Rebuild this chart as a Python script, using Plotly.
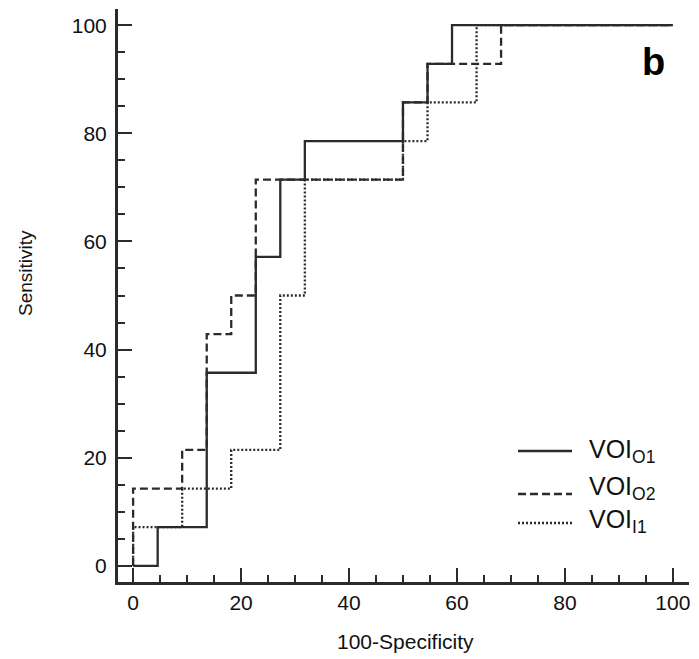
import plotly.graph_objects as go

# ROC operating points (100-Specificity, Sensitivity), drawn as steps
o1_fpr = [0, 4.55, 13.64, 22.73, 27.27, 31.82, 50, 54.55, 59.09, 100]
o1_tpr = [0, 7.14, 35.71, 57.14, 71.43, 78.57, 85.71, 92.86, 100, 100]

o2_fpr = [0, 0, 9.09, 13.64, 18.18, 22.73, 50, 50, 54.55, 68.18, 100]
o2_tpr = [0, 14.29, 21.43, 42.86, 50, 71.43, 78.57, 85.71, 92.86, 100, 100]

i1_fpr = [0, 0, 9.09, 18.18, 27.27, 31.82, 50, 54.55, 63.64, 100]
i1_tpr = [0, 7.14, 14.29, 21.43, 50, 71.43, 78.57, 85.71, 100, 100]

names = ["VOI<sub>O1</sub>", "VOI<sub>O2</sub>", "VOI<sub>I1</sub>"]
dashes = ["solid", "8px,4px", "2px,2px"]
curves = [(o1_fpr, o1_tpr), (o2_fpr, o2_tpr), (i1_fpr, i1_tpr)]

ink = "#2b2b2b"

# the page's body margin (8px) offsets the figure, so size and place in page px minus 8
OFF = 8
W, H = 699 - OFF, 659 - OFF
L, R, T, B = 118 - OFF, 10, 9 - OFF, 77
pw, ph = W - L - R, H - T - B


def px(x):
    return (x - OFF - L) / pw


def py(y):
    return (H - B - (y - OFF)) / ph


fig = go.Figure()
for name, (xs, ys), dash in zip(names, curves, dashes):
    fig.add_trace(go.Scatter(
        x=xs, y=ys, mode="lines", name=name, showlegend=False,
        line=dict(color=ink, width=2.3, dash=dash, shape="hv"),
    ))

axis_common = dict(
    showgrid=False, zeroline=False, showline=True, linecolor=ink, linewidth=3,
    ticks="inside", ticklen=14, tickwidth=2, tickcolor=ink, dtick=20,
    minor=dict(dtick=5, ticks="inside", ticklen=7, tickwidth=1.5, tickcolor=ink),
    tickfont=dict(size=21, color="#111111"), automargin=False,
)

fig.update_layout(
    width=W, height=H,
    margin=dict(l=L, r=R, t=T, b=B),
    plot_bgcolor="white", paper_bgcolor="white",
    font=dict(family="Liberation Sans, Arial, sans-serif", color="#111111"),
    xaxis=dict(range=[-2.8, 103], **axis_common),
    yaxis=dict(range=[-3, 103], ticklabelstandoff=4, **axis_common),
    showlegend=False,
)

# axis titles
fig.add_annotation(x=px(405), y=py(641), xref="paper", yref="paper", text="100-Specificity",
                   showarrow=False, xanchor="center", yanchor="middle", font=dict(size=21))
fig.add_annotation(x=px(25), y=py(273), xref="paper", yref="paper", text="Sensitivity",
                   showarrow=False, textangle=-90, xanchor="center", yanchor="middle",
                   font=dict(size=19))

# hand-drawn legend (longer line samples than plotly's)
text_y = [451, 488, 521]
line_y = [451, 494, 523]
for name, dash, ty, ly in zip(names, dashes, text_y, line_y):
    fig.add_shape(type="line", xref="paper", yref="paper",
                  x0=px(518), x1=px(572), y0=py(ly), y1=py(ly),
                  line=dict(color=ink, width=2.3, dash=dash))
    fig.add_annotation(x=px(587), y=py(ty), xref="paper", yref="paper", text=name,
                       showarrow=False, xanchor="left", yanchor="middle",
                       font=dict(size=25, color="#111111"))

fig.add_annotation(x=px(653), y=py(62), xref="paper", yref="paper", text="<b>b</b>",
                   showarrow=False, xanchor="center", yanchor="middle",
                   font=dict(size=38, color="black"))

fig.write_html("out.html")
